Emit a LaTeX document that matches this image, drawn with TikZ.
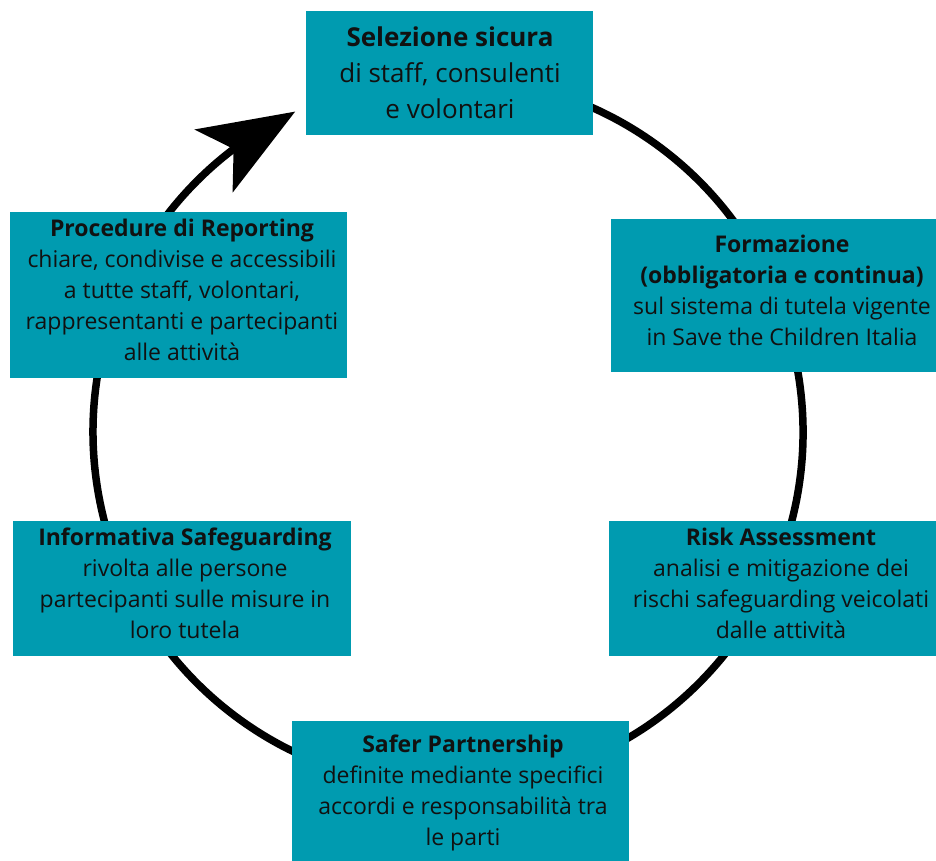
\documentclass[tikz,border=0pt]{standalone}
\usepackage{fontspec}
\setmainfont{Open Sans}
\usetikzlibrary{arrows.meta,calc,bending}
\definecolor{boxteal}{RGB}{0,155,176}
\definecolor{ink}{RGB}{17,17,17}
\begin{document}
\begin{tikzpicture}[x=1pt,y=-1pt,
  box/.style={fill=boxteal, draw=none, inner sep=0pt},
  txt/.style={align=center, text=ink, font=\fontsize{23}{31}\selectfont, inner sep=0pt},
  bigtxt/.style={align=center, text=ink, font=\fontsize{26}{36}\selectfont, inner sep=0pt},
  ring/.style={line width=7.5pt, draw=black}]
\useasboundingbox (0,0) rectangle (936,861);
\coordinate (c) at (448,432);
\coordinate (ringstart) at ($(c)+(-100:355)$);
\draw[ring, -{Stealth[length=95pt,width=73pt,inset=23pt,flex]}]
  (ringstart) arc[start angle=-100, end angle=244.5, radius=355];

\node[box, minimum width=287pt, minimum height=124pt] (b1) at (449.5,73) {};
\node[box, minimum width=342pt, minimum height=153pt] (b2) at (782,295.5) {};
\node[box, minimum width=344pt, minimum height=135pt] (b3) at (781,588.5) {};
\node[box, minimum width=337pt, minimum height=153pt] (b4) at (460.5,797.5) {};
\node[box, minimum width=338pt, minimum height=135pt] (b5) at (182,588.5) {};
\node[box, minimum width=337pt, minimum height=166pt] (b6) at (178.5,295) {};

\node[bigtxt] (t1) at (450,73) {\textbf{Selezione sicura}\\di staff, consulenti\\e volontari};
\node[txt] (t2) at (782,290.5) {\textbf{Formazione}\\\textbf{(obbligatoria e continua)}\\sul sistema di tutela vigente\\in Save the Children Italia};
\node[txt] (t3) at (781,583.5) {\textbf{Risk Assessment}\\analisi e mitigazione dei\\rischi safeguarding veicolati\\dalle attività};
\node[txt] (t4) at (463,792.5) {\textbf{Safer Partnership}\\definite mediante specifici\\accordi e responsabilità tra\\le parti};
\node[txt] (t5) at (185,583.5) {\textbf{Informativa Safeguarding}\\rivolta alle persone\\partecipanti sulle misure in\\loro tutela};
\node[txt] (t6) at (182,290) {\textbf{Procedure di Reporting}\\chiare, condivise e accessibili\\a tutte staff, volontari,\\rappresentanti e partecipanti\\alle attività};
\end{tikzpicture}
\end{document}
